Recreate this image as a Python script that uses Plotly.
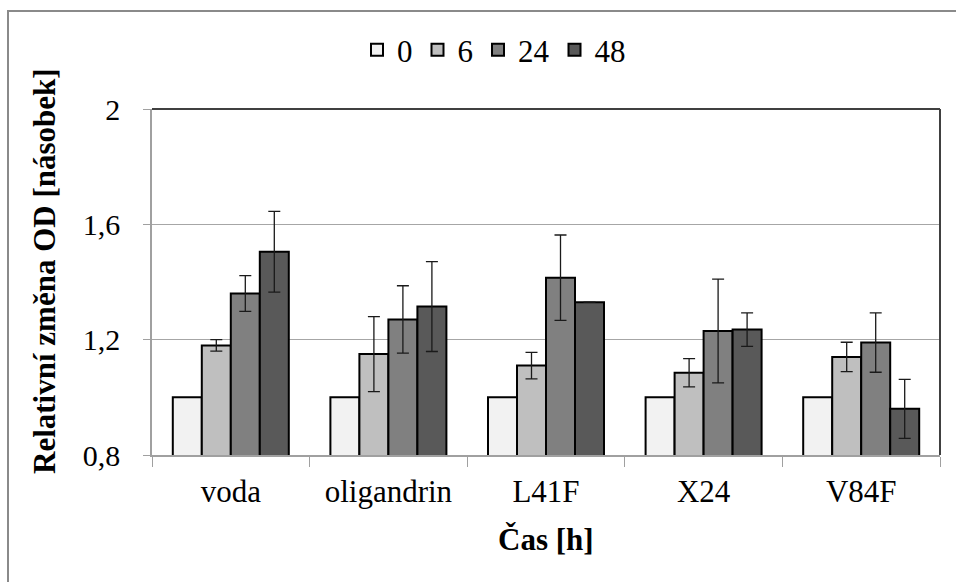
import plotly.graph_objects as go

categories = ["voda", "oligandrin", "L41F", "X24", "V84F"]
series_names = ["0", "6", "24", "48"]
values = {
    "0":  [1.00, 1.00, 1.00, 1.00, 1.00],
    "6":  [1.18, 1.15, 1.11, 1.085, 1.14],
    "24": [1.36, 1.27, 1.415, 1.23, 1.19],
    "48": [1.505, 1.315, 1.33, 1.235, 0.96],
}
errors = {
    "0":  [0, 0, 0, 0, 0],
    "6":  [0.02, 0.13, 0.046, 0.049, 0.051],
    "24": [0.062, 0.117, 0.148, 0.18, 0.103],
    "48": [0.14, 0.156, 0, 0.058, 0.102],
}
colors = {"0": "#f2f2f2", "6": "#bfbfbf", "24": "#808080", "48": "#595959"}
y_tickvals = [0.8, 1.2, 1.6, 2.0]
y_ticktext = ["0,8", "1,2", "1,6", "2"]

FONT = "Times New Roman"

fig = go.Figure()
for s in series_names:
    show_err = any(e > 0 for e in errors[s])
    fig.add_trace(go.Bar(
        name=s, x=categories, y=values[s],
        marker=dict(color=colors[s], line=dict(color="#000000", width=2)),
        error_y=dict(type="data", array=errors[s], visible=show_err,
                     color="#1a1a1a", thickness=1.3, width=6),
    ))

W, H = 956, 582
L, R, T, B = 152, 16, 109, 127
pw, ph = W - L - R, H - T - B

def px(x):
    return (x - L) / pw

def py(y):
    return (H - B - y) / ph

fig.update_layout(
    width=W, height=H,
    margin=dict(l=L, r=R, t=T, b=B, pad=0),
    paper_bgcolor="white", plot_bgcolor="white",
    barmode="group", bargap=0.264, bargroupgap=0,
    font=dict(family=FONT, size=30, color="#000000"),
    showlegend=True,
    legend=dict(orientation="h", x=px(494), xanchor="center", y=py(50), yanchor="middle",
                font=dict(family=FONT, size=31), itemwidth=30, traceorder="normal",
                bgcolor="rgba(0,0,0,0)"),
    xaxis=dict(type="category", showline=True, linecolor="#a0a0a0", linewidth=1.5,
               ticks="outside", tickson="boundaries", ticklen=10, tickcolor="#a0a0a0",
               tickwidth=1, tickfont=dict(family=FONT, size=31), showgrid=False,
               ticklabelstandoff=8),
    yaxis=dict(range=[0.8, 2.0], tickvals=y_tickvals, ticktext=y_ticktext,
               showline=True, linecolor="#a0a0a0", linewidth=1.5,
               ticks="outside", ticklen=7, tickcolor="#a0a0a0", tickwidth=1,
               tickfont=dict(family=FONT, size=30),
               showgrid=True, gridcolor="#a6a6a6", gridwidth=1.2,
               ticklabelstandoff=17, zeroline=False),
    shapes=[
        dict(type="line", xref="paper", yref="paper", x0=0, x1=1, y0=1, y1=1,
             line=dict(color="#404040", width=2)),
        dict(type="line", xref="paper", yref="paper", x0=1, x1=1, y0=0, y1=1,
             line=dict(color="#404040", width=2)),
        dict(type="rect", xref="paper", yref="paper",
             x0=px(8), x1=px(975), y0=py(600), y1=py(11),
             line=dict(color="#8a8a8a", width=2), fillcolor="rgba(0,0,0,0)", layer="below"),
    ],
    annotations=[
        dict(text="<b>Relativní změna OD [násobek]</b>", textangle=-90,
             xref="paper", yref="paper", x=px(44), y=py(271),
             xanchor="center", yanchor="middle", showarrow=False,
             font=dict(family=FONT, size=31)),
        dict(text="<b>Čas [h]</b>", xref="paper", yref="paper",
             x=px(546), y=py(539), xanchor="center", yanchor="middle", showarrow=False,
             font=dict(family=FONT, size=31)),
    ],
)

fig.write_html("out.html")
